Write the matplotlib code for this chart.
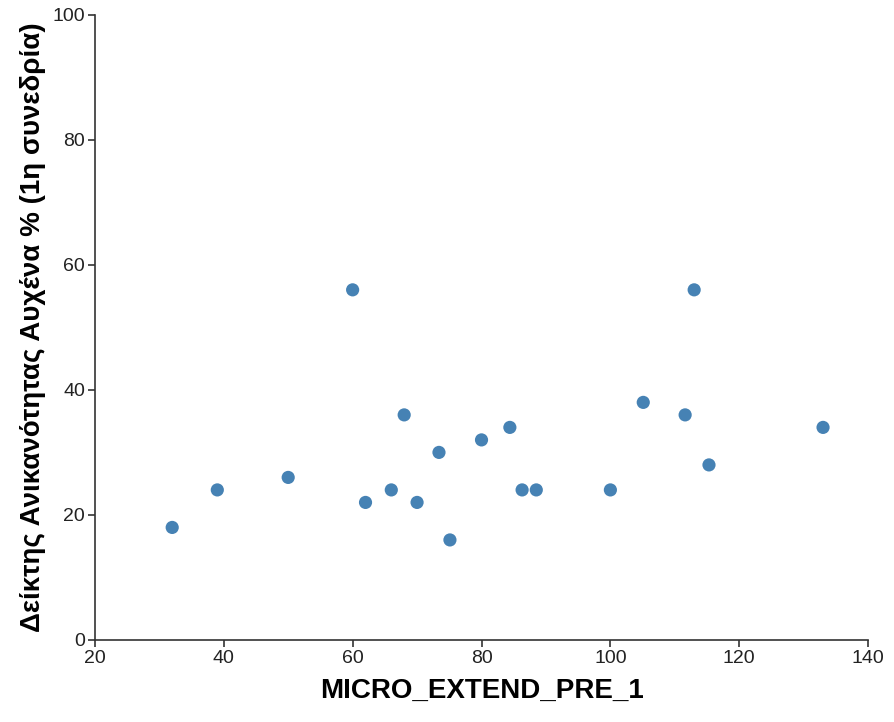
import matplotlib
matplotlib.use("Agg")
import matplotlib.pyplot as plt

x_vals = [32, 39, 50, 60, 62, 66, 68, 70, 73.4, 75.1, 80, 84.4, 86.3, 88.5, 100, 105.1, 111.6, 113, 115.3, 133]
y_vals = [18, 24, 26, 56, 22, 24, 36, 22, 30, 16, 32, 34, 24, 24, 24, 38, 36, 56, 28, 34]
x_ticks = [20, 40, 60, 80, 100, 120, 140]
y_ticks = [0, 20, 40, 60, 80, 100]
x_label = "MICRO_EXTEND_PRE_1"
y_label = "Δείκτης Ανικανότητας Αυχένα % (1η συνεδρία)"

plt.rcParams['font.family'] = ['Liberation Sans', 'DejaVu Sans']
fig = plt.figure(figsize=(8.95, 7.22), dpi=100)
ax = fig.add_axes([0.106, 0.1136, 0.864, 0.866])
ax.scatter(x_vals, y_vals, s=90, color='#4682B4', edgecolors='none', zorder=3)
ax.set_xlim(20, 140)
ax.set_ylim(0, 100)
ax.set_xticks(x_ticks)
ax.set_yticks(y_ticks)
for s in ['top', 'right']:
    ax.spines[s].set_visible(False)
for s in ['left', 'bottom']:
    ax.spines[s].set_linewidth(1.2)
    ax.spines[s].set_color('#333333')
ax.tick_params(direction='out', length=5, width=1.2, color='#333333', labelsize=14, labelcolor='#222222', pad=2)
ax.set_xlabel(x_label, fontsize=20, fontweight='bold', labelpad=8)
ax.set_ylabel(y_label, fontsize=20, fontweight='bold', labelpad=5)
fig.savefig("out.png", dpi=100)
